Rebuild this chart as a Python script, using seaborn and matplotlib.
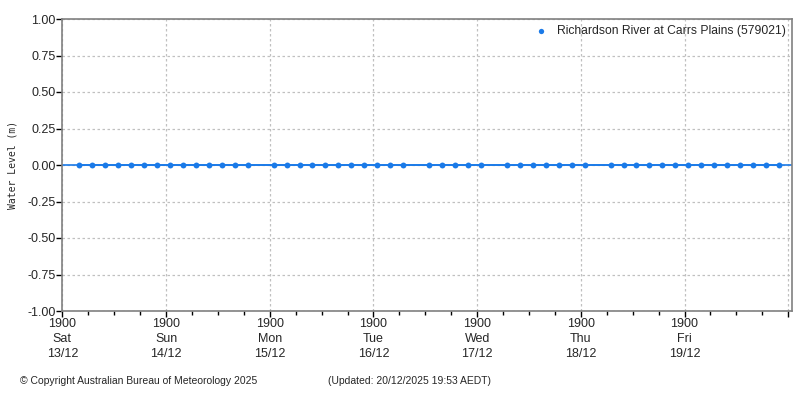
import pandas as pd
import matplotlib
matplotlib.use("Agg")
import matplotlib.pyplot as plt
import matplotlib.dates as mdates
import seaborn as sns

# readings (every 3 hours, some missing)
times = [
    "2025-12-13 22:53",
    "2025-12-14 01:53", "2025-12-14 04:53", "2025-12-14 07:53", "2025-12-14 10:53",
    "2025-12-14 13:53", "2025-12-14 16:53", "2025-12-14 19:53", "2025-12-14 22:53",
    "2025-12-15 01:53", "2025-12-15 04:53", "2025-12-15 07:53", "2025-12-15 10:53",
    "2025-12-15 13:53", "2025-12-15 19:53", "2025-12-15 22:53",
    "2025-12-16 01:53", "2025-12-16 04:53", "2025-12-16 07:53", "2025-12-16 10:53",
    "2025-12-16 13:53", "2025-12-16 16:53", "2025-12-16 19:53", "2025-12-16 22:53",
    "2025-12-17 01:53", "2025-12-17 07:53", "2025-12-17 10:53",
    "2025-12-17 13:53", "2025-12-17 16:53", "2025-12-17 19:53",
    "2025-12-18 01:53", "2025-12-18 04:53", "2025-12-18 07:53", "2025-12-18 10:53",
    "2025-12-18 13:53", "2025-12-18 16:53", "2025-12-18 19:53",
    "2025-12-19 01:53", "2025-12-19 04:53", "2025-12-19 07:53", "2025-12-19 10:53",
    "2025-12-19 13:53", "2025-12-19 16:53", "2025-12-19 19:53", "2025-12-19 22:53",
    "2025-12-20 01:53", "2025-12-20 04:53", "2025-12-20 07:53", "2025-12-20 10:53",
    "2025-12-20 13:53", "2025-12-20 16:53",
]
levels = [0.0] * len(times)

station = "Richardson River at Carrs Plains (579021)"
day_ticks = ["2025-12-13 19:00", "2025-12-14 19:00", "2025-12-15 19:00", "2025-12-16 19:00",
             "2025-12-17 19:00", "2025-12-18 19:00", "2025-12-19 19:00", "2025-12-20 19:00"]
day_labels = ["1900\nSat\n13/12", "1900\nSun\n14/12", "1900\nMon\n15/12", "1900\nTue\n16/12",
              "1900\nWed\n17/12", "1900\nThu\n18/12", "1900\nFri\n19/12", ""]
y_ticks = [-1.0, -0.75, -0.5, -0.25, 0.0, 0.25, 0.5, 0.75, 1.0]
x_start, x_end = "2025-12-13 19:00", "2025-12-20 19:53"

df = pd.DataFrame({"time": pd.to_datetime(times), "level": levels})

sns.set_style("white")
plt.rcParams["font.family"] = ["Liberation Sans", "DejaVu Sans"]

blue = "#1a7ae8"
grey = "#808080"

fig = plt.figure(figsize=(8, 4), dpi=100)
ax = fig.add_axes([0.078, 0.2225, 0.912, 0.73])

ax.axhline(0, color=blue, lw=1.2, zorder=2)
sns.lineplot(data=df, x="time", y="level", ax=ax, color=blue, lw=1.2, legend=False, zorder=2)
sns.scatterplot(data=df, x="time", y="level", ax=ax, color=blue, s=18, linewidth=0,
                label=station, zorder=3)

ax.set_xlim(pd.Timestamp(x_start), pd.Timestamp(x_end))
ax.set_ylim(-1, 1)
ax.set_yticks(y_ticks)
ax.set_yticklabels([f"{v:.2f}" for v in y_ticks], fontsize=9)
ax.set_xticks(pd.to_datetime(day_ticks))
ax.set_xticklabels(day_labels, fontsize=9, linespacing=1.35)
ax.xaxis.set_minor_locator(mdates.HourLocator(byhour=[1, 7, 13]))

ax.tick_params(axis="both", which="major", direction="out", length=4, width=1,
               color="black", pad=1, bottom=True, left=True)
ax.tick_params(axis="x", which="minor", direction="out", length=3, width=1,
               color="black", bottom=True)

ax.grid(True, which="major", color="#c0c0c0", lw=0.9, linestyle=(0, (2, 2)))
for s in ax.spines.values():
    s.set_color(grey)
    s.set_linewidth(1.2)

ax.set_xlabel("")
ax.set_ylabel("Water Level (m)", fontsize=7, family="DejaVu Sans Mono", labelpad=12)
ax.yaxis.set_label_coords(-0.061, 0.5)

leg = ax.legend(loc="upper right", frameon=False, fontsize=8.7, handletextpad=0.3,
                borderaxespad=0.1, markerscale=0.9)

fig.text(0.025, 0.04, "\u00a9 Copyright Australian Bureau of Meteorology 2025", fontsize=7.5)
fig.text(0.41, 0.04, "(Updated: 20/12/2025 19:53 AEDT)", fontsize=7.5)

fig.savefig("out.png", dpi=100)
